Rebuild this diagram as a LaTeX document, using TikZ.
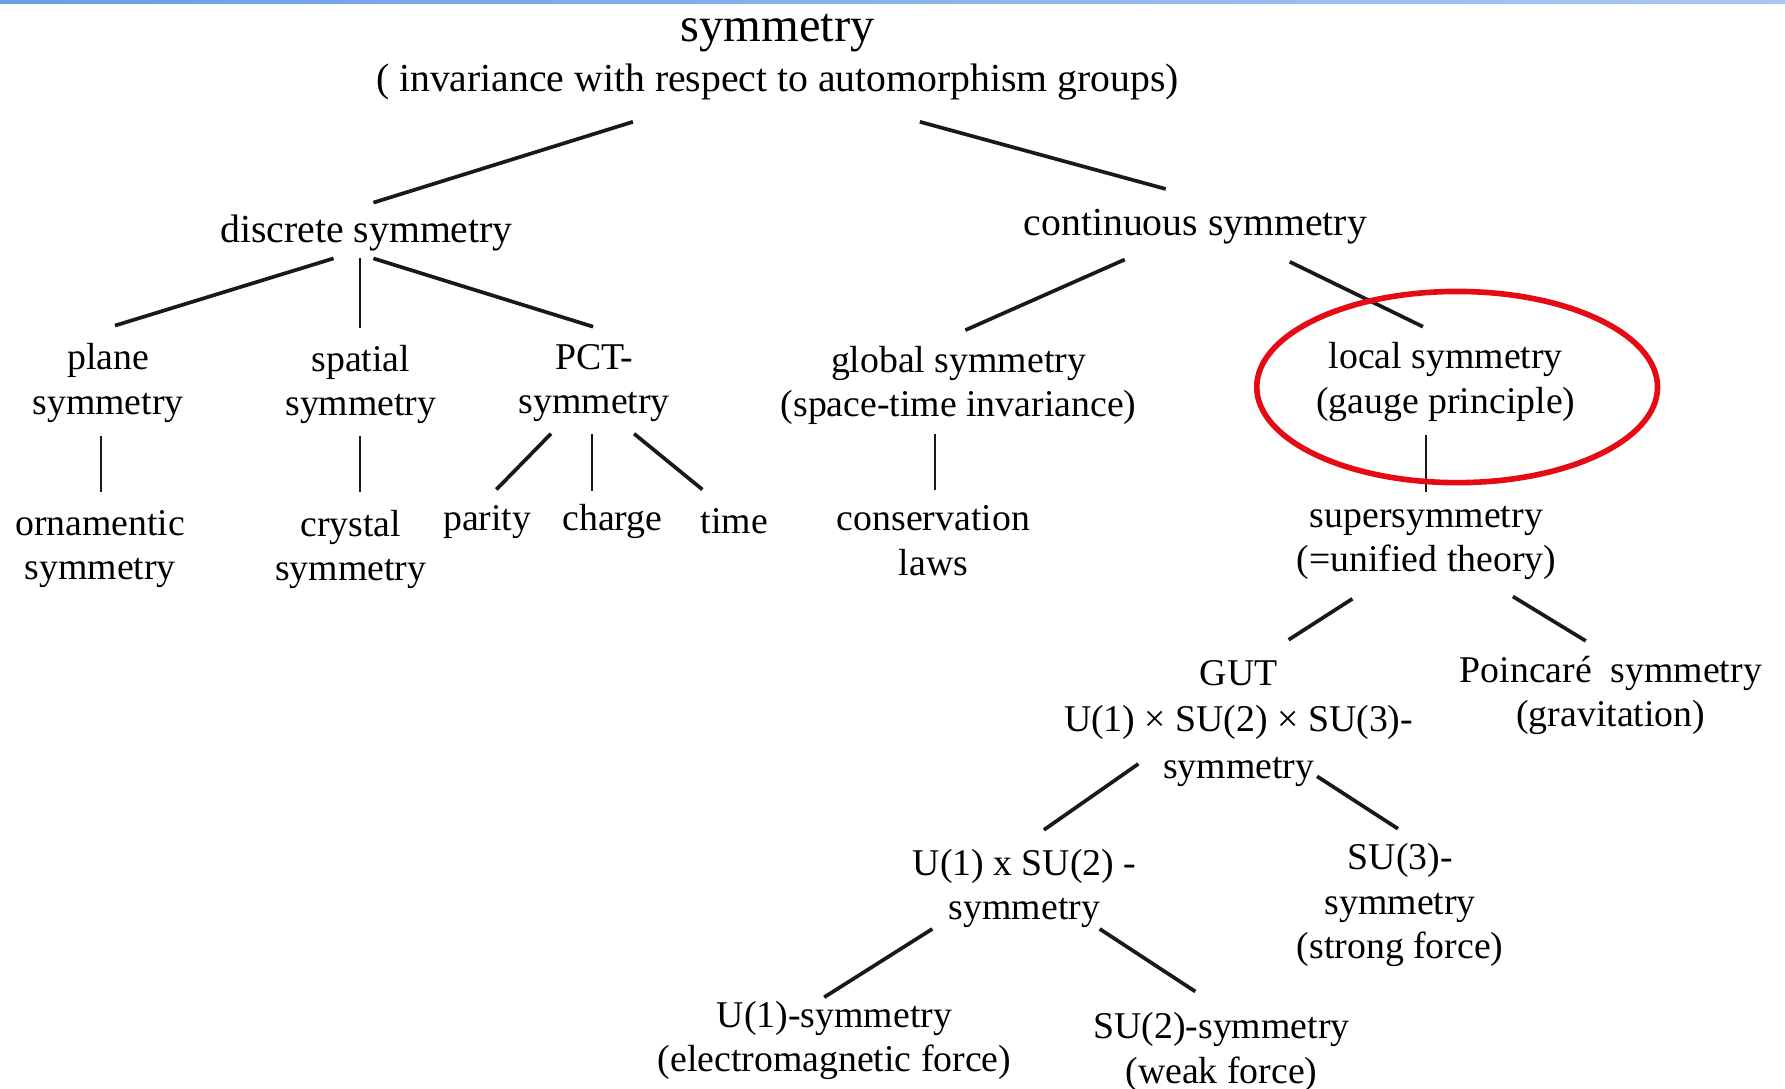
\documentclass[tikz,border=0pt]{standalone}
\usepackage{fontspec}
\setmainfont{Liberation Serif}
\definecolor{barL}{RGB}{108,158,228}
\definecolor{barR}{RGB}{168,200,242}
\definecolor{ringred}{RGB}{230,10,20}
\begin{document}
\begin{tikzpicture}[x=0.0113839cm, y=-0.0113839cm,
  lbl/.style={align=center, inner sep=0pt, font=\fontsize{10.75}{12.6}\selectfont, text=black},
  lblbig/.style={lbl, font=\fontsize{11.3}{12.6}\selectfont},
  thickline/.style={line width=1.05pt, draw=black!90},
  thinline/.style={line width=0.55pt, draw=black!90},
  redring/.style={line width=1.6pt, draw=ringred}]
\useasboundingbox (0,0) rectangle (1568,956);
\shade[left color=barL, right color=barR] (0,0) rectangle (1568,3.5);

\node[lblbig] (root) at (683,50) {{\fontsize{13.8}{16}\selectfont symmetry}\\[1.6pt]( invariance with respect to automorphism groups)};
\node[lblbig] (disc) at (322,204.5) {discrete symmetry};
\node[lblbig] (cont) at (1050,199.5) {continuous symmetry};
\node[lbl] (plane) at (95,336.5) {plane\\symmetry};
\node[lbl] (spatial) at (317,337.5) {spatial\\symmetry};
\node[lbl] (pct) at (522,336.5) {PCT-\\symmetry};
\node[lbl] (global) at (842,338.5) {global symmetry\\(space-time invariance)};
\node[lbl] (local) at (1270,335.5) {local symmetry\\(gauge principle)};
\node[lbl] (orn) at (88,482.5) {ornamentic\\symmetry};
\node[lbl] (crystal) at (308,482.5) {crystal\\symmetry};
\node[lbl] (parity) at (428,458.5) {parity};
\node[lbl] (charge) at (538,458.5) {charge};
\node[lbl] (time) at (645,458) {time};
\node[lbl] (cons) at (820,475) {conservation\\laws};
\node[lbl] (super) at (1253,477) {supersymmetry\\(=unified theory)};
\node[lbl] (gut) at (1088,635.5) {GUT\\[0.6pt]U(1) × SU(2) × SU(3)-\\[0.6pt]symmetry};
\node[lbl] (poinc) at (1415,611) {Poincaré\ \ symmetry\\(gravitation)};
\node[lbl] (u1su2) at (900,780.5) {U(1) x SU(2) -\\symmetry};
\node[lbl] (su3) at (1230,795) {SU(3)-\\symmetry\\(strong force)};
\node[lbl] (u1) at (733,914) {U(1)-symmetry\\(electromagnetic force)};
\node[lbl] (su2) at (1073,924) {SU(2)-symmetry\\(weak force)};

\draw[thickline] ([shift={(-127,57)}]root.center) -- ([shift={(6,-26.5)}]disc.center);
\draw[thickline] ([shift={(125,57)}]root.center) -- ([shift={(-26,-33.5)}]cont.center);
\draw[thickline] ([shift={(-29,22.5)}]disc.center) -- ([shift={(6,-50.5)}]plane.center);
\draw[thinline] ([shift={(-6,22.5)}]disc.center) -- ([shift={(-1,-49.5)}]spatial.center);
\draw[thickline] ([shift={(6,22.5)}]disc.center) -- ([shift={(-1,-49.5)}]pct.center);
\draw[thickline] ([shift={(-62,28.5)}]cont.center) -- ([shift={(6,-48.5)}]global.center);
\draw[thickline] ([shift={(83,30.5)}]cont.center) -- ([shift={(-20,-48.5)}]local.center);
\draw[thinline] ([shift={(-6,46.5)}]plane.center) -- ([shift={(1,-50.5)}]orn.center);
\draw[thinline] ([shift={(-1,45.5)}]spatial.center) -- ([shift={(8,-50.5)}]crystal.center);
\draw[thickline] ([shift={(-38,44.5)}]pct.center) -- ([shift={(8,-28.5)}]parity.center);
\draw[thinline] ([shift={(-2,44.5)}]pct.center) -- ([shift={(-18,-27.5)}]charge.center);
\draw[thickline] ([shift={(35,44.5)}]pct.center) -- ([shift={(-28,-28)}]time.center);
\draw[thinline] ([shift={(-21,42.5)}]global.center) -- ([shift={(1,-45)}]cons.center);
\draw[thinline] ([shift={(-17,46.5)}]local.center) -- ([shift={(0,-45)}]super.center);
\draw[thickline] ([shift={(-65,49)}]super.center) -- ([shift={(44,-73.5)}]gut.center);
\draw[thickline] ([shift={(76,47)}]super.center) -- ([shift={(-22,-48)}]poinc.center);
\draw[thickline] ([shift={(-88,35.5)}]gut.center) -- ([shift={(17,-51.5)}]u1su2.center);
\draw[thickline] ([shift={(69,46.5)}]gut.center) -- ([shift={(-2,-67)}]su3.center);
\draw[thickline] ([shift={(-81,35.5)}]u1su2.center) -- ([shift={(-9,-38)}]u1.center);
\draw[thickline] ([shift={(66,35.5)}]u1su2.center) -- ([shift={(-23,-53)}]su2.center);

\draw[redring] ([shift={(10,4.5)}]local.center) ellipse [x radius=2.0036cm, y radius=0.956cm];
\end{tikzpicture}
\end{document}
